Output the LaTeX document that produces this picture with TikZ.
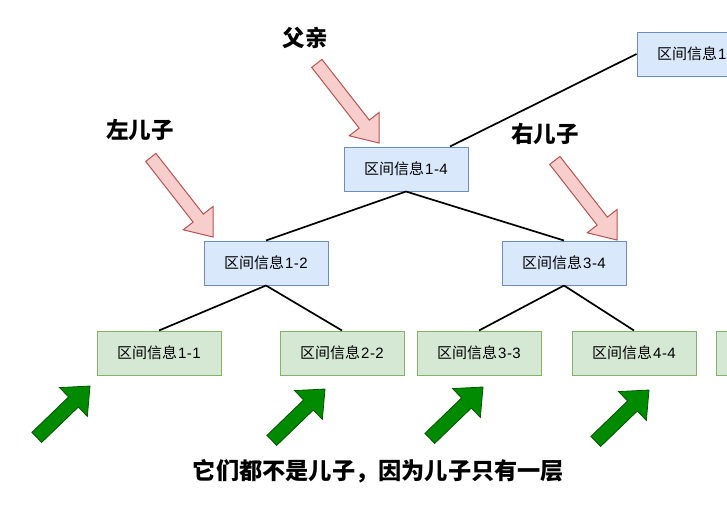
\documentclass[tikz,border=0pt]{standalone}
\usepackage{fontspec}
\setmainfont{Liberation Sans}
\newfontfamily\cjk{Noto Sans CJK SC}
\usetikzlibrary{calc}
\definecolor{bluefill}{HTML}{DAE8FC}
\definecolor{bluedraw}{HTML}{6C8EBF}
\definecolor{greenfill}{HTML}{D5E8D4}
\definecolor{greendraw}{HTML}{82B366}
\definecolor{redfill}{HTML}{F8CECC}
\definecolor{reddraw}{HTML}{B85450}
\definecolor{darkgreen}{HTML}{008A00}
\definecolor{darkgreendraw}{HTML}{005700}
% #1 tip, #2 angle, #3 length, #4 shaft half width, #5 head half width, #6 head length, #7 style
\newcommand\blockarrow[7]{%
  \begin{scope}[shift={#1},rotate=#2]
    \path[#7] (0,0) -- (-#6,-#5) -- (-#6,-#4) -- (-#3,-#4) -- (-#3,#4) -- (-#6,#4) -- (-#6,#5) -- cycle;
  \end{scope}}
\newcommand\boxtext[2]{{\cjk 区间信息}\kern1pt#1\kern0.5pt-\kern0.5pt#2}
\tikzset{
  box/.style={minimum width=124pt, minimum height=44pt, inner sep=0pt, line width=1pt,
    font=\fontsize{15}{18}\selectfont},
  bluebox/.style={box, fill=bluefill, draw=bluedraw},
  greenbox/.style={box, fill=greenfill, draw=greendraw},
  edge/.style={line width=1.7pt, black},
  label/.style={font=\cjk\bfseries\fontsize{22.5}{26}\selectfont, inner sep=0pt},
  redarrow/.style={fill=redfill, draw=reddraw, line width=1pt, line join=miter},
  greenarrow/.style={fill=darkgreen, draw=darkgreendraw, line width=0.8pt, line join=miter}
}
\begin{document}
\begin{tikzpicture}[x=1pt, y=-1pt]
  \useasboundingbox (0,0) rectangle (727,515);
  \fill[white] (0,0) rectangle (727,515);
  \clip (0,0) rectangle (727,515);

  % nodes
  \node[bluebox] (ntop) at (699,54) {\boxtext{1}{8}};
  \node[bluebox] (n14) at (406,169) {\boxtext{1}{4}};
  \node[bluebox] (n12) at (266,263) {\boxtext{1}{2}};
  \node[bluebox] (n34) at (564,263) {\boxtext{3}{4}};
  \node[greenbox] (n11) at (159,353) {\boxtext{1}{1}};
  \node[greenbox] (n22) at (342,353) {\boxtext{2}{2}};
  \node[greenbox] (n33) at (479,353) {\boxtext{3}{3}};
  \node[greenbox] (n44) at (634,353) {\boxtext{4}{4}};
  \node[greenbox] (n55) at (778,353) {};

  % edges
  \coordinate (n14up) at ($(n14.north)+(44,0)$);
  \draw[edge] (n14up) -- (ntop.west);
  \draw[edge] (n14.south) -- (n12.north);
  \draw[edge] (n14.south) -- (n34.north);
  \draw[edge] (n12.south) -- (n11.north);
  \draw[edge] (n12.south) -- (n22.north);
  \draw[edge] (n34.south) -- (n33.north);
  \draw[edge] (n34.south) -- (n44.north);

  % labels
  \node[label] (lfather) at (305,38) {父亲};
  \node[label] (lleft) at (140,130) {左儿子};
  \node[label] (lright) at (545,134) {右儿子};
  \node[label, font=\cjk\bfseries\fontsize{23.2}{27}\selectfont] (lbottom) at (378.5,471) {它们都不是儿子，因为儿子只有一层};

  % red block arrows
  \blockarrow{(379,143)}{-52}{101}{6.5}{19}{24}{redarrow}
  \blockarrow{(213,237)}{-52}{101}{6.5}{19}{24}{redarrow}
  \blockarrow{(617,240)}{-52}{101}{6.5}{19}{24}{redarrow}

  % green block arrows
  \blockarrow{(90,386)}{44}{74}{7}{20}{23}{greenarrow}
  \blockarrow{(325,389)}{44}{74}{7}{20}{23}{greenarrow}
  \blockarrow{(483,387)}{44}{74}{7}{20}{23}{greenarrow}
  \blockarrow{(649,390)}{44}{74}{7}{20}{23}{greenarrow}
\end{tikzpicture}
\end{document}
